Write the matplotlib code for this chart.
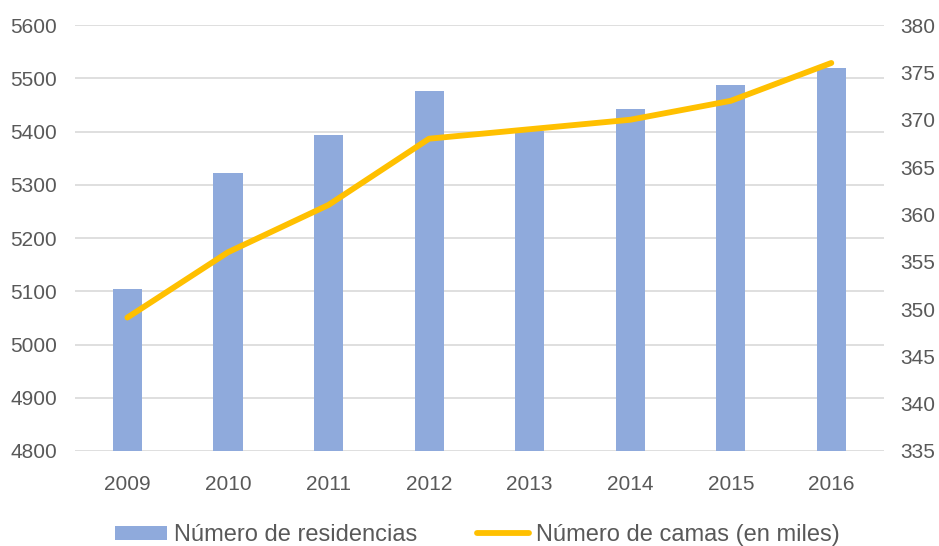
import matplotlib.pyplot as plt
import numpy as np

plt.rcParams['font.family'] = ['Liberation Sans', 'DejaVu Sans']

years = ['2009', '2010', '2011', '2012', '2013', '2014', '2015', '2016']
residencias = [5104, 5322, 5393, 5476, 5401, 5442, 5487, 5520]
camas = [349.1, 356.0, 361.0, 368.0, 369.0, 370.0, 372.0, 376.0]

txt = '#595959'
fig = plt.figure(figsize=(9.39, 5.46), dpi=100)
ax1 = fig.add_axes([0.08, 0.174, 0.861, 0.78])
ax2 = ax1.twinx()

x = np.arange(len(years))
b = ax1.bar(x, residencias, width=0.29, color='#8FAADC', zorder=2,
            label='Número de residencias')
ax1.set_ylim(4800, 5600)
ax1.set_yticks(np.arange(4800, 5601, 100))
ax1.set_xlim(-0.52, 7.52)
ax1.set_xticks(x)
ax1.set_xticklabels(years)
ax1.grid(axis='y', color='#D9D9D9', linewidth=1.2, zorder=0)
ax1.set_axisbelow(True)

l, = ax2.plot(x, camas, color='#FFC000', linewidth=4.2, solid_capstyle='round',
              label='Número de camas (en miles)', zorder=3)
ax2.set_ylim(335, 380)
ax2.set_yticks(np.arange(335, 381, 5))

for a in (ax1, ax2):
    for s in a.spines.values():
        s.set_visible(False)
    a.tick_params(length=0, labelsize=15, colors=txt)
ax1.tick_params(axis='y', pad=13)
ax2.tick_params(axis='y', pad=12)
ax1.tick_params(axis='x', pad=17)

fig.legend([b, l], ['Número de residencias', 'Número de camas (en miles)'],
           loc='center', bbox_to_anchor=(0.5085, 0.02), ncol=2, frameon=False,
           fontsize=17, labelcolor=txt, handlelength=2.2, handleheight=0.55,
           columnspacing=2.5, handletextpad=0.3)

fig.savefig('out.png', dpi=100)
